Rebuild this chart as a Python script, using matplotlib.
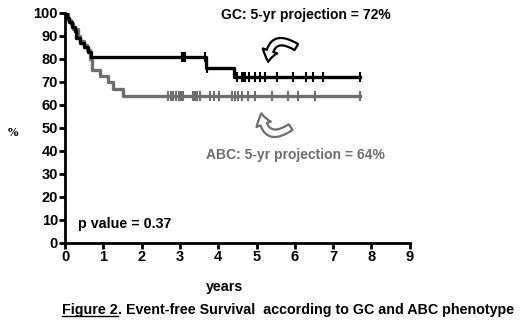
import numpy as np
import matplotlib
matplotlib.use("Agg")
import matplotlib.pyplot as plt
from matplotlib.patches import FancyArrowPatch
from matplotlib.lines import Line2D

# step curves (years, % event-free)
gc_times = [0, 0.05, 0.10, 0.17, 0.25, 0.30, 0.40, 0.50, 0.60, 0.68, 3.68, 4.41, 7.70]
gc_surv = [100, 98, 96, 94, 92, 89, 87, 85, 83, 81, 76, 72, 72]
gc_censor = [3.05, 3.09, 3.13, 3.66, 3.71, 4.48, 4.63, 4.67, 4.71, 4.81, 4.96,
             5.09, 5.22, 5.54, 5.96, 6.28, 6.47, 6.74, 7.70]

abc_times = [0, 0.08, 0.15, 0.22, 0.33, 0.40, 0.50, 0.58, 0.65, 0.70, 0.92,
             1.13, 1.25, 1.52, 7.70]
abc_surv = [100, 97, 95, 93, 90, 88, 86, 84, 80, 75, 72.5, 70, 67, 64, 64]
abc_censor = [2.70, 2.76, 2.83, 2.90, 2.97, 3.03, 3.09, 3.33, 3.39, 3.45, 3.52,
              3.79, 3.90, 4.03, 4.35, 4.44, 4.52, 4.62, 4.79, 4.96, 5.40, 5.83,
              6.09, 6.53, 7.70]

x_ticks = list(range(0, 10))
y_ticks = list(range(0, 101, 10))

BOLD = dict(family="Liberation Sans", fontweight="bold")
GRAY = "#6e6e6e"


def surv_at(times, surv, t):
    i = np.searchsorted(times, t, side="right") - 1
    return np.array(surv)[i]


fig = plt.figure(figsize=(5.2, 3.24), dpi=100)
ax = fig.add_axes([0.125, 0.251, 0.663, 0.709])

for times, surv, cens, col in [(abc_times, abc_surv, abc_censor, GRAY),
                               (gc_times, gc_surv, gc_censor, "black")]:
    ax.step(times, surv, where="post", color=col, lw=2.4, zorder=3)
    ax.plot(cens, surv_at(times, surv, cens), ls="none", marker="|",
            ms=7, mew=1.5, color=col, zorder=4)

ax.set_xlim(0, 9)
ax.set_ylim(0, 100)
ax.set_xticks(x_ticks)
ax.set_yticks(y_ticks)
ax.spines["top"].set_visible(False)
ax.spines["right"].set_visible(False)
ax.spines["left"].set_linewidth(2)
ax.spines["bottom"].set_linewidth(2)
ax.tick_params(width=2, length=4, pad=1)
for lab in ax.get_xticklabels() + ax.get_yticklabels():
    lab.set_fontsize(10.5)
    lab.set_fontweight("bold")
    lab.set_family("Liberation Sans")

ax.text(6.29, 99.3, "GC: 5-yr projection = 72%", ha="center", va="center",
        fontsize=10, color="black", **BOLD)
ax.text(6.02, 38.2, "ABC: 5-yr projection = 64%", ha="center", va="center",
        fontsize=10, color=GRAY, **BOLD)
ax.text(0.34, 8.2, "p value = 0.37", ha="left", va="center",
        fontsize=10.3, color="black", **BOLD)

# curved call-out arrows
a1 = FancyArrowPatch((6.1, 84.5), (5.3, 77.5), connectionstyle="arc3,rad=0.9",
                     arrowstyle="simple,head_width=11,head_length=8,tail_width=5",
                     fc="white", ec="black", lw=1.6, zorder=5)
a2 = FancyArrowPatch((5.95, 51.0), (5.12, 57.5), connectionstyle="arc3,rad=-0.9",
                     arrowstyle="simple,head_width=11,head_length=8,tail_width=5",
                     fc="white", ec=GRAY, lw=1.6, zorder=5)
ax.add_patch(a1)
ax.add_patch(a2)

fig.text(13 / 520, 1 - 132 / 324, "%", ha="center", va="center",
         fontsize=8, family="DejaVu Serif", fontweight="bold")
fig.text(225 / 520, 1 - 287 / 324, "years", ha="center", va="center",
         fontsize=10.3, **BOLD)

# caption with underlined "Figure 2"
cy = 1 - 310 / 324
t1 = fig.text(62 / 520, cy, "Figure 2", ha="left", va="center", fontsize=10.3, **BOLD)
fig.canvas.draw()
bb = t1.get_window_extent().transformed(fig.transFigure.inverted())
fig.text(bb.x1, cy, ". Event-free Survival  according to GC and ABC phenotype",
         ha="left", va="center", fontsize=10.3, **BOLD)
fig.add_artist(Line2D([bb.x0, bb.x1], [bb.y0 + 0.003, bb.y0 + 0.003],
                      transform=fig.transFigure, color="black", lw=1))

fig.savefig("out.png", dpi=100)
